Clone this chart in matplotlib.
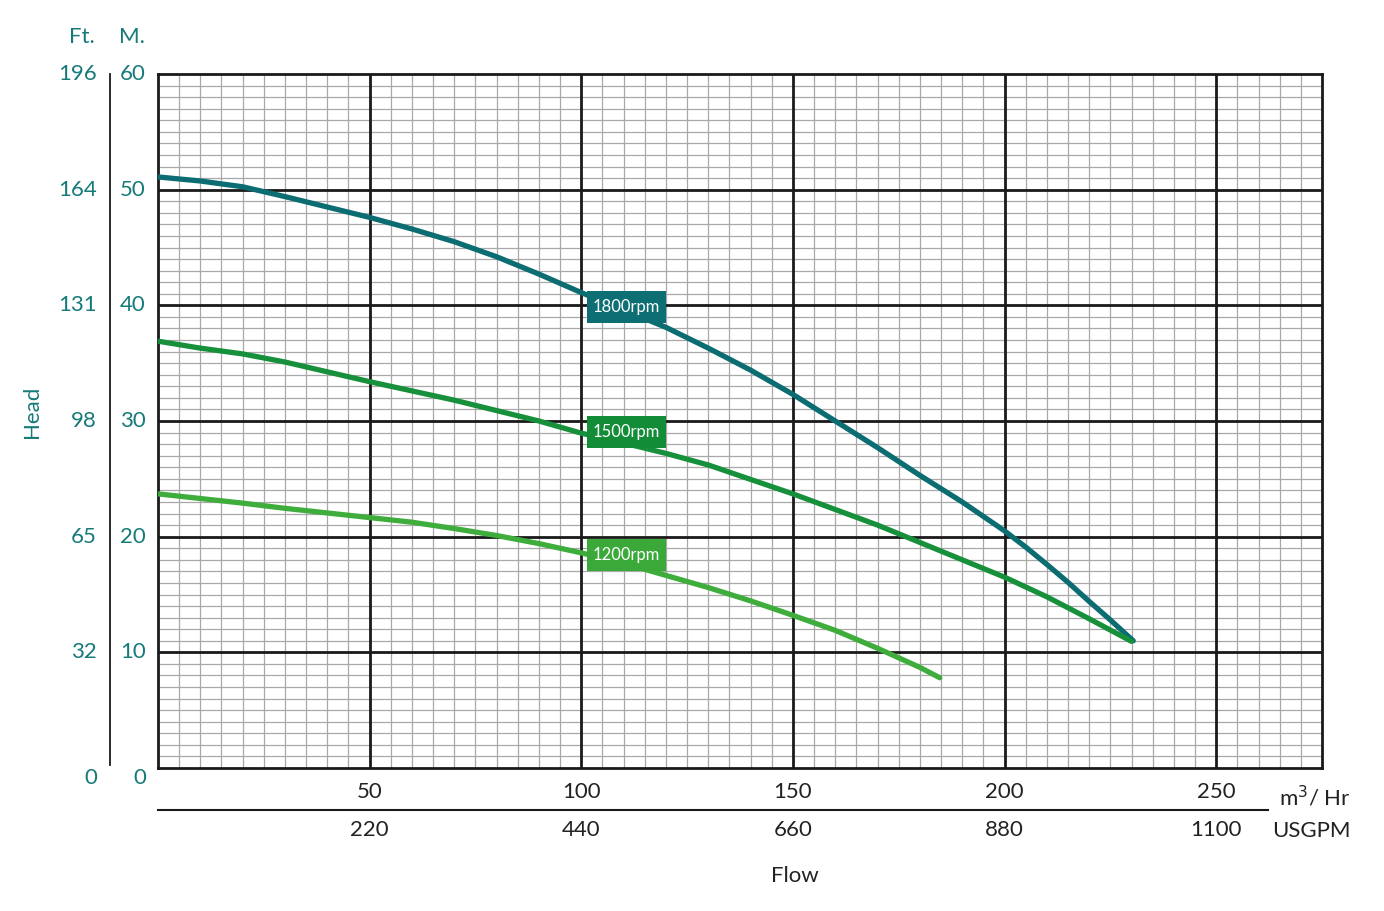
import numpy as np
import matplotlib.pyplot as plt
from matplotlib.patches import Rectangle
from matplotlib.transforms import blended_transform_factory, offset_copy

# Data (flow in m3/hr, head in metres)
flow_1800 = [0, 10, 20, 30, 40, 50, 60, 70, 80, 90, 100, 110, 120, 130, 140, 150,
             160, 170, 180, 190, 200, 205, 210, 215, 220, 225, 230.4]
head_1800 = [51.1, 50.75, 50.25, 49.4, 48.5, 47.6, 46.6, 45.5, 44.2, 42.7, 41.1, 39.6,
             38.1, 36.3, 34.4, 32.3, 30.0, 27.7, 25.3, 23.0, 20.5, 19.1, 17.6, 16.05,
             14.4, 12.8, 11.0]

flow_1500 = [0, 10, 20, 30, 40, 50, 60, 70, 80, 90, 100, 110, 120, 130, 140, 150,
             160, 170, 180, 190, 200, 210, 220, 230]
head_1500 = [36.9, 36.3, 35.8, 35.1, 34.25, 33.4, 32.6, 31.8, 30.9, 30.0, 28.95, 28.1,
             27.2, 26.2, 24.95, 23.7, 22.35, 21.0, 19.5, 18.0, 16.5, 14.8, 12.9, 10.95]

flow_1200 = [0, 10, 20, 30, 40, 50, 60, 70, 80, 90, 100, 110, 120, 130, 140, 150,
             160, 170, 180, 184.7]
head_1200 = [23.7, 23.3, 22.9, 22.45, 22.05, 21.65, 21.25, 20.7, 20.1, 19.4, 18.6, 17.7,
             16.65, 15.6, 14.45, 13.2, 11.9, 10.35, 8.7, 7.8]

curves = [
    ('1800rpm', flow_1800, head_1800, '#0b6c71', '#0d6f73', 39.85),
    ('1500rpm', flow_1500, head_1500, '#17903b', '#138c37', 29.05),
    ('1200rpm', flow_1200, head_1200, '#3fad3c', '#3aa93a', 18.4),
]
label_x = 110.6

m_ticks = [0, 10, 20, 30, 40, 50, 60]
ft_labels = ['0', '32', '65', '98', '131', '164', '196']
flow_ticks = [50, 100, 150, 200, 250]
gpm_labels = ['220', '440', '660', '880', '1100']

teal = '#167a79'
dark = '#222222'
fs = 16
plt.rcParams['font.family'] = ['Lato', 'DejaVu Sans']

W, H = 1384, 911
fig = plt.figure(figsize=(W / 100, H / 100), dpi=100)
ax = fig.add_axes([158 / W, (H - 768) / H, 1164 / W, 694 / H])
ax.set_xlim(0, 275)
ax.set_ylim(0, 60)

# graph paper grid
for x in np.arange(5, 275, 5):
    major = x % 50 == 0
    ax.axvline(x, color='#1a1a1a' if major else '#a8a8a8',
               lw=2.0 if major else 0.9, zorder=2 if major else 1)
for y in np.arange(1, 60, 1):
    major = y % 10 == 0
    ax.axhline(y, color='#1a1a1a' if major else '#a8a8a8',
               lw=2.0 if major else 0.9, zorder=2 if major else 1)
for s in ax.spines.values():
    s.set_linewidth(2.0)
    s.set_color('#1a1a1a')
ax.set_xticks([])
ax.set_yticks([])

# curves + labels
for name, fx, hy, lc, bc, ly in curves:
    ax.plot(fx, hy, color=lc, lw=3.8, solid_capstyle='round',
            solid_joinstyle='round', zorder=4)
    ax.add_patch(Rectangle((label_x - 9.35, ly - 1.38), 18.7, 2.76,
                           facecolor=bc, edgecolor='none', zorder=5))
    ax.text(label_x, ly, name, color='white', fontsize=12, ha='center',
            va='center', zorder=6)

# y tick labels (metres and feet)
ytr = blended_transform_factory(ax.transAxes, ax.transData)
for m, ft in zip(m_ticks, ft_labels):
    dy = -10 if m == 0 else 0
    tr = offset_copy(ytr, fig=fig, x=0, y=dy * 0.72, units='points')
    ax.text(-12 / 1164, m, str(m), transform=tr, ha='right', va='center',
            color=teal, fontsize=fs)
    ax.text(-61 / 1164, m, ft, transform=tr, ha='right', va='center',
            color=teal, fontsize=fs)
fig.add_artist(plt.Line2D([110 / W, 110 / W], [(H - 765) / H, (H - 74) / H],
                          color='#1a1a1a', lw=1.3))
fig.text(82 / W, 1 - 37 / H, 'Ft.', color=teal, fontsize=fs, ha='center', va='center')
fig.text(132 / W, 1 - 37 / H, 'M.', color=teal, fontsize=fs, ha='center', va='center')
fig.text(32 / W, 1 - 412 / H, 'Head', color=teal, fontsize=fs, ha='center',
         va='center', rotation=90)

# x tick labels (m3/hr and USGPM)
xtr = blended_transform_factory(ax.transData, fig.transFigure)
for f, g in zip(flow_ticks, gpm_labels):
    ax.text(f, 1 - 792 / H, str(f), transform=xtr, ha='center', va='center',
            color=dark, fontsize=fs)
    ax.text(f, 1 - 830 / H, g, transform=xtr, ha='center', va='center',
            color=dark, fontsize=fs)
fig.add_artist(plt.Line2D([158 / W, 1268 / W], [1 - 810 / H, 1 - 810 / H],
                          color='#1a1a1a', lw=1.5))
fig.text(1279 / W, 1 - 797 / H, r'm$^3$/ Hr', color=dark, fontsize=fs,
         ha='left', va='center')
fig.text(1272 / W, 1 - 831 / H, 'USGPM', color=dark, fontsize=fs,
         ha='left', va='center')
fig.text(795 / W, 1 - 876 / H, 'Flow', color=dark, fontsize=fs,
         ha='center', va='center')

fig.savefig('out.png', dpi=100)
